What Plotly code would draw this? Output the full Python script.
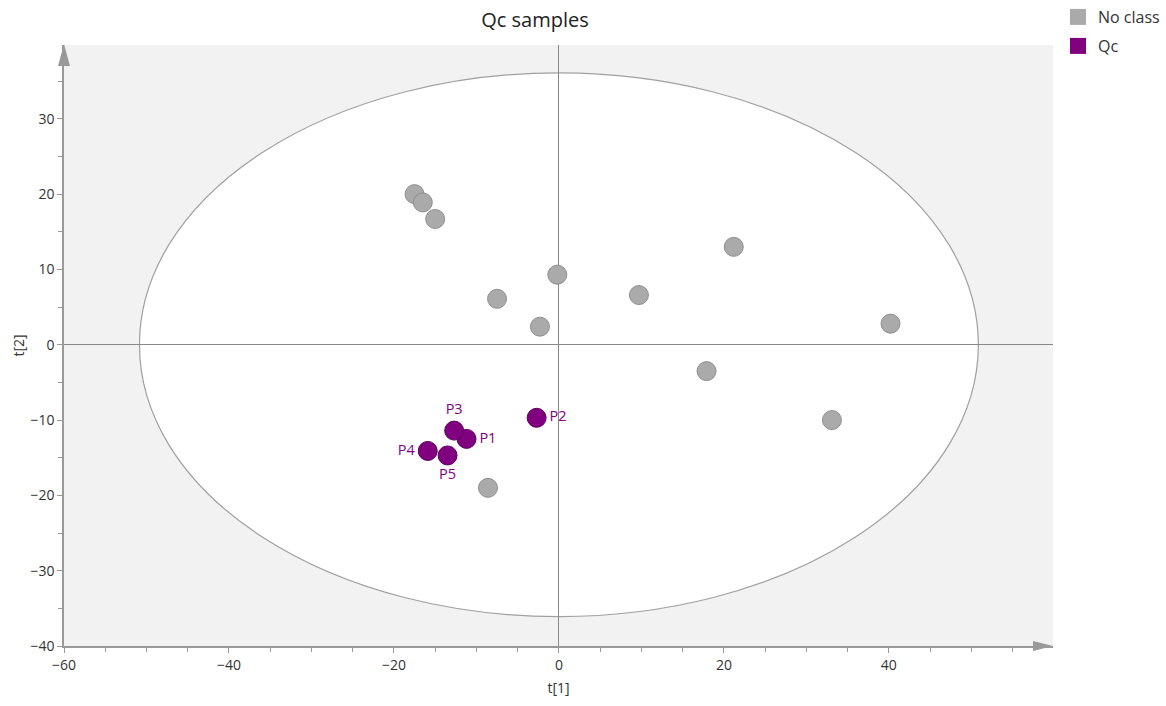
import plotly.graph_objects as go

# Data
nc_x = [-17.5, -16.5, -15.0, -7.5, -2.3, -0.2, 9.7, 21.2, 17.9, 33.1, 40.2, -8.6]
nc_y = [20.0, 18.9, 16.7, 6.1, 2.4, 9.3, 6.6, 13.0, -3.5, -10.0, 2.8, -19.0]

qc_labels = ["P1", "P2", "P3", "P4", "P5"]
qc_x = [-11.2, -2.7, -12.7, -15.9, -13.5]
qc_y = [-12.5, -9.7, -11.4, -14.1, -14.7]
qc_textpos = ["middle right", "middle right", "top center", "middle left", "bottom center"]

ellipse_a = 50.85
ellipse_b = 36.1

x_ticks = [-60, -40, -20, 0, 20, 40]
y_ticks = [-40, -30, -20, -10, 0, 10, 20, 30]

FONT = "Open Sans"
AX = "#999999"
GREY = "#aaaaaa"
PURPLE = "#800080"

fig = go.Figure()
fig.add_trace(go.Scatter(
    x=nc_x, y=nc_y, mode="markers", name="No class", showlegend=False,
    marker=dict(size=19, color=GREY, line=dict(color="#8f8f8f", width=1)),
))
fig.add_trace(go.Scatter(
    x=qc_x, y=qc_y, mode="markers+text", name="Qc", showlegend=False,
    text=qc_labels, textposition=qc_textpos,
    textfont=dict(color=PURPLE, size=14.5, family=FONT),
    marker=dict(size=19, color=PURPLE, line=dict(color="#5e005e", width=1)),
))
# legend entries (square swatches)
fig.add_trace(go.Scatter(x=[None], y=[None], mode="markers", name="No class",
                         legend="legend",
                         marker=dict(symbol="square", size=22, color=GREY)))
fig.add_trace(go.Scatter(x=[None], y=[None], mode="markers", name="Qc",
                         legend="legend2",
                         marker=dict(symbol="square", size=22, color=PURPLE)))

shapes = [
    dict(type="circle", xref="x", yref="y", x0=-ellipse_a, x1=ellipse_a,
         y0=-ellipse_b, y1=ellipse_b, fillcolor="white",
         line=dict(color="#a0a0a0", width=1.2), layer="below"),
    # y-axis arrow
    dict(type="path", xref="paper", yref="paper", xsizemode="pixel", ysizemode="pixel",
         xanchor=0, yanchor=1, path="M -6 -21 L 6 -21 L 0 1 Z",
         fillcolor=AX, line=dict(width=0)),
    # x-axis arrow
    dict(type="path", xref="paper", yref="paper", xsizemode="pixel", ysizemode="pixel",
         xanchor=1, yanchor=0, path="M -20 -5 L -20 5 L 0 0 Z",
         fillcolor=AX, line=dict(width=0)),
]

legend_common = dict(xref="container", xanchor="left", yref="container", yanchor="top",
                     font=dict(size=16, color="#333333"), itemsizing="trace",
                     itemwidth=30, tracegroupgap=0, bgcolor="rgba(0,0,0,0)")

fig.update_layout(
    width=1166, height=706,
    margin=dict(l=64, r=113, t=45, b=60, autoexpand=False),
    paper_bgcolor="white", plot_bgcolor="#f2f2f2",
    font=dict(family=FONT, size=14, color="#333333"),
    title=dict(text="Qc samples", x=535 / 1166, xanchor="center",
               y=1 - 20 / 706, yanchor="middle",
               font=dict(size=20, color="#222222", family=FONT)),
    showlegend=True,
    legend=dict(x=1058 / 1166, y=1.0, **legend_common),
    legend2=dict(x=1058 / 1166, y=1.0 - 29 / 706, **legend_common),
    shapes=shapes,
)

fig.update_xaxes(
    range=[-60, 59.9], tickvals=x_ticks, showgrid=False,
    zeroline=True, zerolinecolor="#888888", zerolinewidth=1,
    showline=True, linecolor=AX, linewidth=1.5,
    ticks="outside", ticklen=5, tickcolor=AX,
    minor=dict(dtick=5, ticks="outside", ticklen=4, tickcolor=AX, showgrid=False),
    title=dict(text="t[1]", standoff=11, font=dict(size=14)),
)
fig.update_yaxes(
    range=[-40, 39.8], tickvals=y_ticks, showgrid=False,
    zeroline=True, zerolinecolor="#888888", zerolinewidth=1,
    showline=True, linecolor=AX, linewidth=1.5,
    ticks="outside", ticklen=5, tickcolor=AX,
    minor=dict(dtick=5, ticks="outside", ticklen=4, tickcolor=AX, showgrid=False),
    title=dict(text="t[2]", standoff=3, font=dict(size=14)),
)

fig.write_html("out.html", config={"displayModeBar": False},
               post_script="document.body.style.margin='0';")
